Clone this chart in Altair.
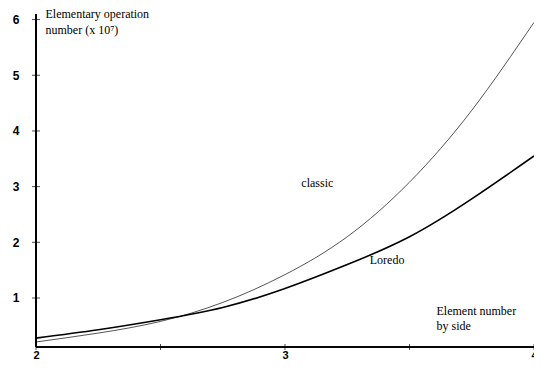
import altair as alt
import pandas as pd

x_vals = [2.0, 2.25, 2.5, 2.75, 3.0, 3.25, 3.5, 3.75, 4.0]
classic = [0.21, 0.37, 0.58, 0.92, 1.42, 2.10, 3.08, 4.37, 5.95]
loredo = [0.28, 0.43, 0.61, 0.83, 1.17, 1.60, 2.10, 2.78, 3.55]

label_text = ["classic", "Loredo"]
label_x = [3.13, 3.41]
label_y = [3.07, 1.68]

y_ticks = [1, 2, 3, 4, 5, 6]
x_ticks = [2, 2.5, 3, 3.5, 4]
x_min, x_max = 2, 4
y_min, y_max = 0.12, 6.1

rows = []
for xv, c, l in zip(x_vals, classic, loredo):
    rows.append({"x": xv, "v": c, "series": "classic"})
    rows.append({"x": xv, "v": l, "series": "Loredo"})
df = pd.DataFrame(rows)
lab = pd.DataFrame({"t": label_text, "x": label_x, "y": label_y})
yt = pd.DataFrame({"y": y_ticks})
xt = pd.DataFrame({"x": x_ticks})

xs = alt.Scale(domain=[x_min, x_max], nice=False, zero=False)
ys = alt.Scale(domain=[y_min, y_max], nice=False, zero=False)

serif = "Liberation Serif, Times New Roman, serif"
sans = "Liberation Sans, Arial, sans-serif"

x_axis = alt.Axis(
    values=x_ticks, labelExpr="datum.value % 1 == 0 ? format(datum.value, 'd') : ''",
    labelOverlap=False, grid=False, ticks=False, domain=False,
    labelFont=sans, labelFontWeight="bold", labelFontSize=11, labelColor="black",
    labelPadding=2, labelFlush=False,
    title=["Element number", "by side"], titleFont=serif, titleFontSize=12,
    titleFontWeight="normal", titleColor="black", titleAngle=0,
    titleAlign="left", titleBaseline="top", titleX=400, titleY=-42, titleLineHeight=15,
)
y_axis = alt.Axis(
    values=y_ticks, format="d", grid=False, ticks=False, domain=False,
    labelFont=sans, labelFontWeight="bold", labelFontSize=12, labelColor="black",
    labelPadding=17,
    title=["Elementary operation", "number (x 10⁷)"], titleFont=serif, titleFontSize=12,
    titleFontWeight="normal", titleColor="black", titleAngle=0,
    titleAlign="left", titleBaseline="top", titleX=9, titleY=-6, titleLineHeight=16,
)

lines = alt.Chart(df).mark_line(color="black", interpolate="natural").encode(
    x=alt.X("x:Q", scale=xs, axis=x_axis),
    y=alt.Y("v:Q", scale=ys, axis=y_axis),
    detail="series:N",
    strokeWidth=alt.StrokeWidth("series:N", scale=alt.Scale(domain=["classic", "Loredo"], range=[0.9, 1.6]), legend=None),
    opacity=alt.Opacity("series:N", scale=alt.Scale(domain=["classic", "Loredo"], range=[0.75, 1.0]), legend=None),
)

texts = alt.Chart(lab).mark_text(font=serif, fontSize=12, color="black").encode(
    x=alt.X("x:Q", scale=xs),
    y=alt.Y("y:Q", scale=ys),
    text="t:N",
)

y_line = alt.Chart(yt).mark_rule(color="black", strokeWidth=1.2).encode(
    x=alt.datum(x_min, scale=xs), y=alt.datum(y_min, scale=ys), y2=alt.datum(y_max),
)
x_line = alt.Chart(xt).mark_rule(color="black", strokeWidth=1.2).encode(
    y=alt.datum(y_min, scale=ys), x=alt.datum(x_min, scale=xs), x2=alt.datum(x_max),
)
y_tk = alt.Chart(yt).mark_tick(orient="horizontal", size=8, thickness=1, color="black").encode(
    x=alt.datum(x_min, scale=xs), y=alt.Y("y:Q", scale=ys),
)
x_tk = alt.Chart(xt).mark_tick(orient="vertical", size=6, thickness=1, color="black").encode(
    y=alt.datum(y_min, scale=ys), x=alt.X("x:Q", scale=xs),
)

chart = alt.layer(lines, texts, y_line, x_line, y_tk, x_tk).properties(
    width=498, height=333,
    autosize=alt.AutoSizeParams(type="none"),
    padding={"left": 28, "top": 6, "right": 0, "bottom": 13},
).configure_view(stroke=None)

chart.save("out.html", embed_options={"renderer": "svg", "actions": False})
